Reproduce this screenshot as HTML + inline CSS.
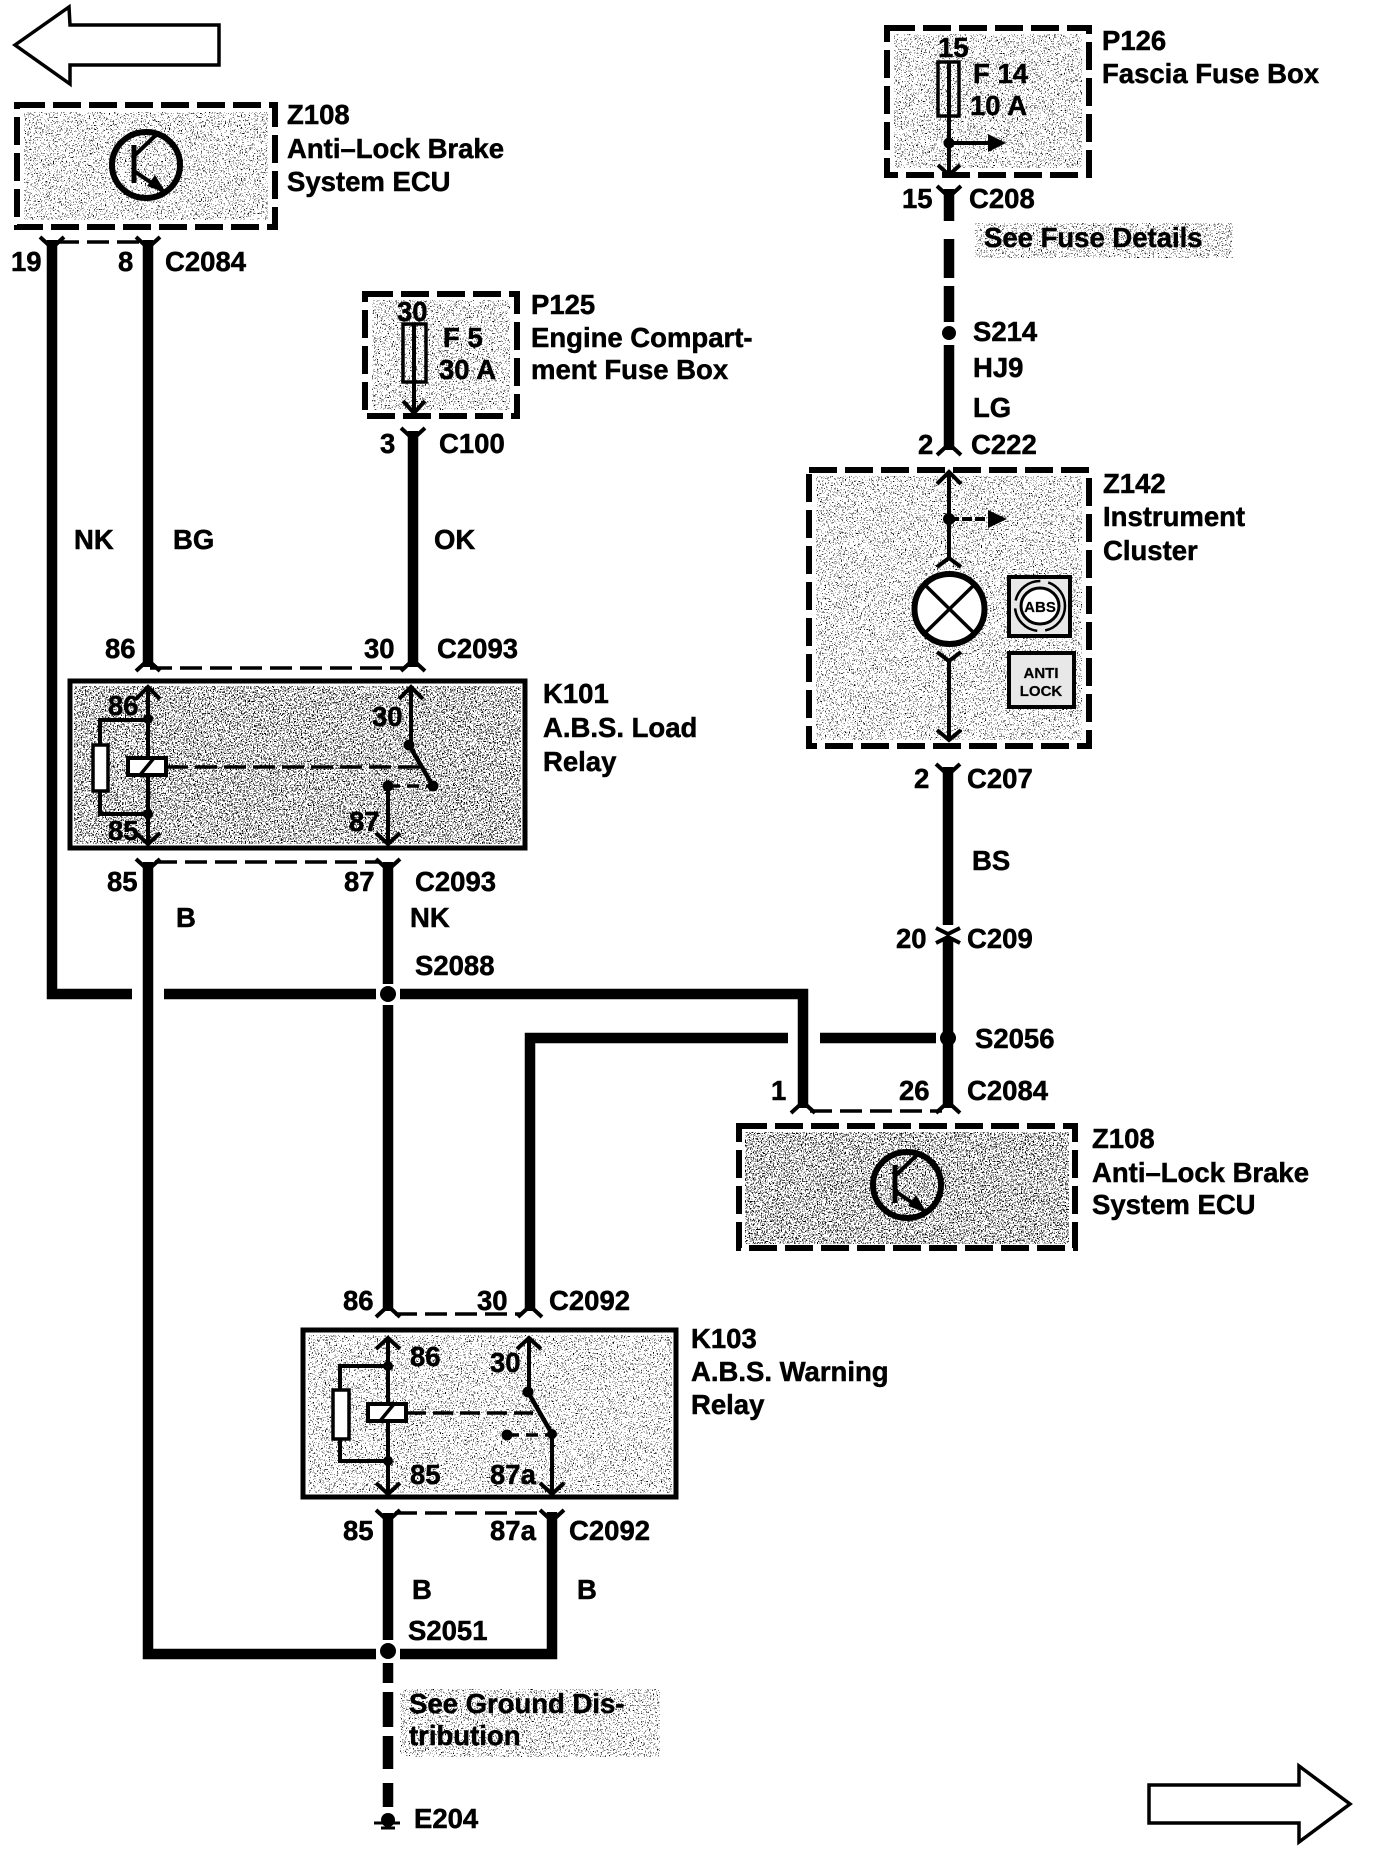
<!DOCTYPE html>
<html><head><meta charset="utf-8"><style>
html,body{margin:0;padding:0;background:#fff;width:1376px;height:1850px;overflow:hidden}
svg{display:block}
text{font-family:"Liberation Sans",sans-serif;font-weight:bold;font-size:27.5px;fill:#000;stroke:#000;stroke-width:.5px}
.w{stroke:#000;stroke-width:10.5;fill:none}
.t{stroke:#000;stroke-width:4;fill:none}
.d{stroke:#000;stroke-width:3.5;fill:none;stroke-dasharray:22 8}
.b{stroke:#000;stroke-width:6;stroke-dasharray:28 8;fill:none}
.c{stroke:#000;stroke-width:4;fill:none}
</style></head><body>
<svg width="1376" height="1850" viewBox="0 0 1376 1850" xmlns="http://www.w3.org/2000/svg">
<defs>
<filter id="n" x="0" y="0" width="100%" height="100%">
<feTurbulence type="fractalNoise" baseFrequency="0.75" numOctaves="2" seed="4"/>
<feColorMatrix type="matrix" values="0 0 0 0 0  0 0 0 0 0  0 0 0 0 0  3 3 0 0 -3.1"/>
<feComponentTransfer result="s"><feFuncA type="discrete" tableValues="0 0 1 1"/></feComponentTransfer>
<feComposite in="s" in2="SourceAlpha" operator="in"/>
</filter>
<filter id="m" x="0" y="0" width="100%" height="100%">
<feTurbulence type="fractalNoise" baseFrequency="0.75" numOctaves="2" seed="9"/>
<feColorMatrix type="matrix" values="0 0 0 0 0  0 0 0 0 0  0 0 0 0 0  3 3 0 0 -2.85"/>
<feComponentTransfer result="s"><feFuncA type="discrete" tableValues="0 0 1 1"/></feComponentTransfer>
<feComposite in="s" in2="SourceAlpha" operator="in"/>
</filter>
</defs>
<rect width="1376" height="1850" fill="#fff"/>

<!-- stipple fills -->
<g filter="url(#n)">
<rect x="24" y="112" width="244" height="108"/>
<rect x="372" y="300" width="138" height="110"/>
<rect x="894" y="34" width="188" height="134"/>
<rect x="816" y="476" width="266" height="264"/>
<rect x="975" y="223" width="258" height="35"/>
<rect x="400" y="1689" width="260" height="68"/>
<rect x="308" y="1335" width="364" height="158"/>
</g>
<g filter="url(#m)">
<rect x="74" y="686" width="447" height="158"/>
<rect x="745" y="1132" width="324" height="112"/>
</g>

<!-- big arrows -->
<path d="M15 45 L69 7 L70 25 H219 V65 H70 V84 Z" fill="#fff" stroke="#000" stroke-width="3.5"/>
<path d="M1149 1785 H1299 V1766 L1350 1804 L1299 1842 V1823 H1149 Z" fill="#fff" stroke="#000" stroke-width="3.5"/>

<!-- boxes -->
<rect class="b" x="17" y="105" width="258" height="122"/>
<rect class="b" x="365" y="294" width="152" height="122"/>
<rect class="b" x="887" y="28" width="202" height="147"/>
<rect class="b" x="809" y="470" width="280" height="276"/>
<rect class="b" x="739" y="1126" width="336" height="122"/>
<rect x="70" y="681" width="455" height="167" fill="none" stroke="#000" stroke-width="5"/>
<rect x="303" y="1330" width="373" height="167" fill="none" stroke="#000" stroke-width="5"/>

<!-- thick wires -->
<path class="w" d="M52 240 V994 H132"/>
<path class="w" d="M164 994 H376"/>
<path class="w" d="M400 994 H803 V1108"/>
<path class="w" d="M148 240 V667"/>
<path class="w" d="M413 431 V667"/>
<path class="w" d="M148 862 V1654 H376"/>
<path class="w" d="M400 1654 H552 V1512"/>
<path class="w" d="M388 862 V984"/>
<path class="w" d="M388 1005 V1311"/>
<path class="w" d="M388 1513 V1640"/>
<path class="w" d="M530 1311 V1038 H788"/>
<path class="w" d="M820 1038 H936"/>
<path class="w" d="M949 189 V221"/>
<path class="w" d="M949 239 V278"/>
<path class="w" d="M949 286 V322"/>
<path class="w" d="M949 345 V450"/>
<path class="w" d="M948 767 V925"/>
<path class="w" d="M948 938 V1108"/>
<path class="w" d="M388 1663 V1683 M388 1692 V1727 M388 1736 V1769 M388 1783 V1807"/>
<!-- junction dots -->
<g fill="#000">
<ellipse cx="388" cy="994" rx="8" ry="8"/>
<ellipse cx="388" cy="1651" rx="8" ry="8"/>
<ellipse cx="948" cy="1038" rx="8" ry="8"/>
<ellipse cx="949" cy="333" rx="7" ry="7"/>
</g>

<!-- dashed connector bars -->
<path class="d" d="M57 242 H143"/>
<path class="d" d="M150 668 H405"/>
<path class="d" d="M155 862 H380"/>
<path class="d" d="M395 1314 H522"/>
<path class="d" d="M395 1513 H545"/>
<path class="d" d="M810 1111 H942"/>

<!-- chevrons: arms up -->
<path class="c" d="M40 237 L52 248 L64 237 M136 237 L148 248 L160 237 M401 428 L413 439 L425 428 M937 186 L949 197 L961 186 M936 764 L948 775 L960 764 M136 859 L148 870 L160 859 M376 859 L388 870 L400 859 M376 1510 L388 1521 L400 1510 M540 1510 L552 1521 L564 1510"/>
<!-- chevrons: arms down -->
<path class="c" d="M136 671 L148 660 L160 671 M401 671 L413 660 L425 671 M937 455 L949 444 L961 455 M376 1317 L388 1306 L400 1317 M518 1317 L530 1306 L542 1317 M791 1113 L803 1102 L815 1113 M936 1113 L948 1102 L960 1113 M936 928 L948 934 L960 928 M936 943 L948 937 L960 943"/>

<!-- transistor symbols -->
<ellipse cx="146" cy="165" rx="34" ry="33" fill="none" stroke="#000" stroke-width="6"/>
<path d="M134 145 V183" stroke="#000" stroke-width="5" fill="none"/>
<path d="M134 156 L157 134 M134 171 L165 192" stroke="#000" stroke-width="4" fill="none"/>
<path d="M166 193 L147 186 L155 175 Z" fill="#000"/>
<ellipse cx="907" cy="1185" rx="34" ry="33" fill="none" stroke="#000" stroke-width="6"/>
<path d="M895 1165 V1203" stroke="#000" stroke-width="5" fill="none"/>
<path d="M895 1176 L918 1154 M895 1191 L926 1212" stroke="#000" stroke-width="4" fill="none"/>
<path d="M927 1213 L908 1206 L916 1195 Z" fill="#000"/>

<!-- fuse P125 -->
<rect x="403" y="324" width="23" height="58" fill="none" stroke="#000" stroke-width="3.5"/>
<path d="M414 324 V413" stroke="#000" stroke-width="4"/>
<path class="c" d="M403 401 L414 413 L425 401"/>

<!-- fuse P126 -->
<rect x="938" y="62" width="21" height="54" fill="none" stroke="#000" stroke-width="3.5"/>
<path d="M949 62 V175" stroke="#000" stroke-width="4"/>
<circle cx="949" cy="143" r="5.5" fill="#000"/>
<path d="M949 143 H990" stroke="#000" stroke-width="4"/>
<path d="M988 134 L1006 143 L988 152 Z" fill="#000"/>
<path class="c" d="M938 165 L949 175 L960 165"/>

<!-- Z142 internals -->
<path class="t" d="M949 472 V560"/>
<path class="c" d="M937 484 L949 472 L961 484"/>
<circle cx="949" cy="519" r="6" fill="#000"/>
<path d="M949 519 H990" stroke="#000" stroke-width="4" stroke-dasharray="10 3"/>
<path d="M988 510 L1007 519 L988 528 Z" fill="#000"/>
<path class="c" d="M937 567 L949 558 L961 567"/>
<ellipse cx="949.5" cy="609" rx="35" ry="35" fill="#fff" stroke="#000" stroke-width="6"/>
<path d="M925 585 L974 633 M974 585 L925 633" stroke="#000" stroke-width="3.5"/>
<path class="c" d="M937 652 L949 661 L961 652"/>
<path class="t" d="M949 660 V740"/>
<path class="c" d="M937 730 L949 740 L961 730"/>
<rect x="1009" y="577" width="61" height="59" fill="#e8e8e8" stroke="#000" stroke-width="4"/>
<circle cx="1040" cy="606" r="25" fill="none" stroke="#000" stroke-width="2.5" stroke-dasharray="34 8"/>
<ellipse cx="1040" cy="606" rx="19" ry="18" fill="#fff" stroke="#000" stroke-width="3"/>
<text x="1040" y="612" text-anchor="middle" style="font-size:15px;stroke-width:.2px">ABS</text>
<rect x="1009" y="653" width="65" height="54" fill="#e8e8e8" stroke="#000" stroke-width="4"/>
<text x="1041" y="678" text-anchor="middle" style="font-size:15px;stroke-width:.2px">ANTI</text>
<text x="1041" y="696" text-anchor="middle" style="font-size:15px;stroke-width:.2px">LOCK</text>

<!-- K101 internals -->
<path class="t" d="M148 687 V844"/>
<path class="c" d="M136 699 L148 687 L160 699 M136 833 L148 844 L160 833"/>
<circle cx="148" cy="719" r="5" fill="#000"/><circle cx="148" cy="814" r="5" fill="#000"/>
<path class="t" d="M148 720 H100 V814 H148"/>
<rect x="93" y="745" width="15" height="46" fill="#fff" stroke="#000" stroke-width="3.5"/>
<rect x="128" y="758" width="38" height="17" fill="#fff" stroke="#000" stroke-width="4"/>
<path d="M140 775 L154 758" stroke="#000" stroke-width="3.5"/>
<path d="M166 767 H421" stroke="#000" stroke-width="3.5" stroke-dasharray="22 7"/>
<path class="t" d="M411 687 V745"/>
<path class="c" d="M399 699 L411 687 L423 699"/>
<circle cx="409" cy="745" r="5.5" fill="#000"/>
<path d="M409 745 L433 786" stroke="#000" stroke-width="4.5"/>
<circle cx="433" cy="786" r="5.5" fill="#000"/>
<path d="M388 786 H430" stroke="#000" stroke-width="3.5" stroke-dasharray="12 7"/>
<circle cx="388" cy="786" r="5.5" fill="#000"/>
<path class="t" d="M388 786 V844"/>
<path class="c" d="M376 833 L388 844 L400 833"/>

<!-- K103 internals -->
<path class="t" d="M388 1338 V1494"/>
<path class="c" d="M376 1349 L388 1338 L400 1349 M376 1483 L388 1494 L400 1483"/>
<circle cx="388" cy="1366" r="5" fill="#000"/><circle cx="388" cy="1461" r="5" fill="#000"/>
<path class="t" d="M388 1366 H340 V1461 H388"/>
<rect x="333" y="1390" width="16" height="49" fill="#fff" stroke="#000" stroke-width="3.5"/>
<rect x="368" y="1404" width="38" height="17" fill="#fff" stroke="#000" stroke-width="4"/>
<path d="M380 1421 L394 1404" stroke="#000" stroke-width="3.5"/>
<path d="M406 1413 H533" stroke="#000" stroke-width="3.5" stroke-dasharray="20 7"/>
<path class="t" d="M529 1338 V1392"/>
<path class="c" d="M517 1349 L529 1338 L541 1349"/>
<circle cx="528" cy="1392" r="5.5" fill="#000"/>
<path d="M528 1392 L552 1434" stroke="#000" stroke-width="4.5"/>
<circle cx="552" cy="1434" r="5" fill="#000"/>
<circle cx="507" cy="1435" r="5.5" fill="#000"/>
<path d="M507 1435 H550" stroke="#000" stroke-width="3.5" stroke-dasharray="12 7"/>
<path class="t" d="M552 1434 V1494"/>
<path class="c" d="M540 1483 L552 1494 L564 1483"/>

<!-- ground -->
<circle cx="388" cy="1820" r="7" fill="#000"/>
<path d="M374 1823 H400" stroke="#000" stroke-width="3"/>
<path d="M381 1828 H395" stroke="#000" stroke-width="3"/>

<!-- labels -->
<text x="287" y="124">Z108</text>
<text x="287" y="158">Anti–Lock Brake</text>
<text x="287" y="191">System ECU</text>
<text x="11" y="271">19</text>
<text x="118" y="271">8</text>
<text x="165" y="271">C2084</text>
<text x="397" y="321">30</text>
<text x="443" y="347">F 5</text>
<text x="439" y="379">30 A</text>
<text x="531" y="314">P125</text>
<text x="531" y="347">Engine Compart-</text>
<text x="531" y="379">ment Fuse Box</text>
<text x="380" y="453">3</text>
<text x="439" y="453">C100</text>
<text x="74" y="549">NK</text>
<text x="173" y="549">BG</text>
<text x="434" y="549">OK</text>
<text x="105" y="658">86</text>
<text x="364" y="658">30</text>
<text x="437" y="658">C2093</text>
<text x="108" y="715">86</text>
<text x="372" y="726">30</text>
<text x="349" y="831">87</text>
<text x="108" y="840">85</text>
<text x="543" y="703">K101</text>
<text x="543" y="737">A.B.S. Load</text>
<text x="543" y="771">Relay</text>
<text x="107" y="891">85</text>
<text x="344" y="891">87</text>
<text x="415" y="891">C2093</text>
<text x="176" y="927">B</text>
<text x="410" y="927">NK</text>
<text x="415" y="975">S2088</text>
<text x="343" y="1310">86</text>
<text x="477" y="1310">30</text>
<text x="549" y="1310">C2092</text>
<text x="410" y="1366">86</text>
<text x="490" y="1372">30</text>
<text x="410" y="1484">85</text>
<text x="490" y="1484">87a</text>
<text x="691" y="1348">K103</text>
<text x="691" y="1381">A.B.S. Warning</text>
<text x="691" y="1414">Relay</text>
<text x="343" y="1540">85</text>
<text x="490" y="1540">87a</text>
<text x="569" y="1540">C2092</text>
<text x="412" y="1599">B</text>
<text x="577" y="1599">B</text>
<text x="408" y="1640">S2051</text>
<text x="409" y="1713">See Ground Dis-</text>
<text x="409" y="1745">tribution</text>
<text x="414" y="1828">E204</text>
<text x="938" y="57">15</text>
<text x="973" y="83">F 14</text>
<text x="970" y="115">10  A</text>
<text x="1102" y="50">P126</text>
<text x="1102" y="83">Fascia Fuse Box</text>
<text x="902" y="208">15</text>
<text x="969" y="208">C208</text>
<text x="984" y="247">See Fuse Details</text>
<text x="973" y="341">S214</text>
<text x="973" y="377">HJ9</text>
<text x="973" y="417">LG</text>
<text x="918" y="454">2</text>
<text x="971" y="454">C222</text>
<text x="1103" y="493">Z142</text>
<text x="1103" y="526">Instrument</text>
<text x="1103" y="560">Cluster</text>
<text x="914" y="788">2</text>
<text x="967" y="788">C207</text>
<text x="972" y="870">BS</text>
<text x="896" y="948">20</text>
<text x="967" y="948">C209</text>
<text x="975" y="1048">S2056</text>
<text x="771" y="1100">1</text>
<text x="899" y="1100">26</text>
<text x="967" y="1100">C2084</text>
<text x="1092" y="1148">Z108</text>
<text x="1092" y="1182">Anti–Lock Brake</text>
<text x="1092" y="1214">System ECU</text>
</svg>
</body></html>
